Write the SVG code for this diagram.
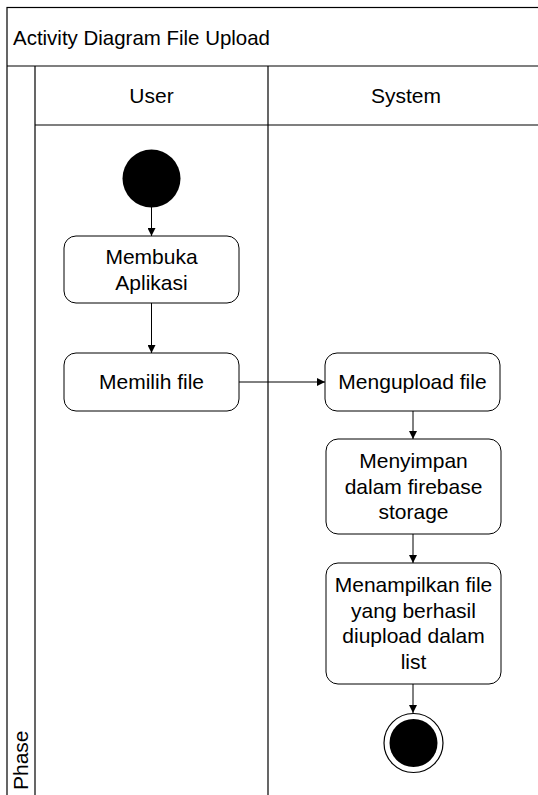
<svg xmlns="http://www.w3.org/2000/svg" width="538" height="795" viewBox="0 0 538 795">
  <style>
    .frame { fill: none; stroke: #000; stroke-width: 1.2; }
    .box { fill: #fff; stroke: #000; stroke-width: 1; }
    .lbl { font-family: "Liberation Sans", Arial, sans-serif; font-size: 21px; fill: #000; }
    .c { text-anchor: middle; }
    .edge { fill: none; stroke: #000; stroke-width: 1; }
  </style>
  <defs>
    <marker id="arrow" viewBox="0 0 10 10" refX="10" refY="5" markerWidth="9" markerHeight="8" markerUnits="userSpaceOnUse" orient="auto">
      <path d="M0,0 L10,5 L0,10 Z" fill="#000"/>
    </marker>
  </defs>
  <rect x="0" y="0" width="538" height="795" fill="#fff"/>

  <g id="pool">
    <rect class="frame" x="7" y="7.5" width="600" height="900"/>
    <line class="frame" x1="7" y1="66" x2="538" y2="66"/>
    <line class="frame" x1="35" y1="125" x2="538" y2="125"/>
    <line class="frame" x1="35" y1="66" x2="35" y2="795"/>
    <line class="frame" x1="268" y1="66" x2="268" y2="795"/>
    <text class="lbl" x="13" y="45" textLength="257" lengthAdjust="spacingAndGlyphs">Activity Diagram File Upload</text>
    <text class="lbl c" x="151.5" y="103">User</text>
    <text class="lbl c" x="406" y="103">System</text>
    <text class="lbl" transform="translate(27.5,790) rotate(-90)">Phase</text>
  </g>

  <g id="connectors">
    <line class="edge" x1="151.5" y1="207" x2="151.5" y2="236" marker-end="url(#arrow)"/>
    <line class="edge" x1="151.5" y1="303" x2="151.5" y2="353" marker-end="url(#arrow)"/>
    <line class="edge" x1="239" y1="382" x2="325" y2="382" marker-end="url(#arrow)"/>
    <line class="edge" x1="413" y1="411" x2="413" y2="439" marker-end="url(#arrow)"/>
    <line class="edge" x1="413" y1="534" x2="413" y2="563" marker-end="url(#arrow)"/>
    <line class="edge" x1="413" y1="684" x2="413" y2="713" marker-end="url(#arrow)"/>
  </g>

  <g id="start">
    <circle cx="151.5" cy="178.5" r="29" fill="#000"/>
  </g>

  <g id="membuka">
    <rect class="box" x="64" y="236" width="175" height="67" rx="12"/>
    <text class="lbl c" x="151.5" y="264">Membuka</text>
    <text class="lbl c" x="151.5" y="290">Aplikasi</text>
  </g>

  <g id="memilih">
    <rect class="box" x="64" y="353" width="175" height="58" rx="12"/>
    <text class="lbl c" x="151.5" y="389">Memilih file</text>
  </g>

  <g id="mengupload">
    <rect class="box" x="325" y="353" width="175" height="58" rx="12"/>
    <text class="lbl c" x="412.5" y="389">Mengupload file</text>
  </g>

  <g id="menyimpan">
    <rect class="box" x="326" y="439" width="175" height="95" rx="12"/>
    <text class="lbl c" x="413.5" y="468">Menyimpan</text>
    <text class="lbl c" x="413.5" y="494">dalam firebase</text>
    <text class="lbl c" x="413.5" y="519">storage</text>
  </g>

  <g id="menampilkan">
    <rect class="box" x="326" y="563" width="175" height="121" rx="12"/>
    <text class="lbl c" x="413.5" y="592">Menampilkan file</text>
    <text class="lbl c" x="413.5" y="618">yang berhasil</text>
    <text class="lbl c" x="413.5" y="643">diupload dalam</text>
    <text class="lbl c" x="413.5" y="669">list</text>
  </g>

  <g id="end">
    <circle cx="413.5" cy="743" r="29.5" fill="#fff" stroke="#000" stroke-width="1.2"/>
    <circle cx="413.5" cy="743" r="24" fill="#000"/>
  </g>
</svg>
